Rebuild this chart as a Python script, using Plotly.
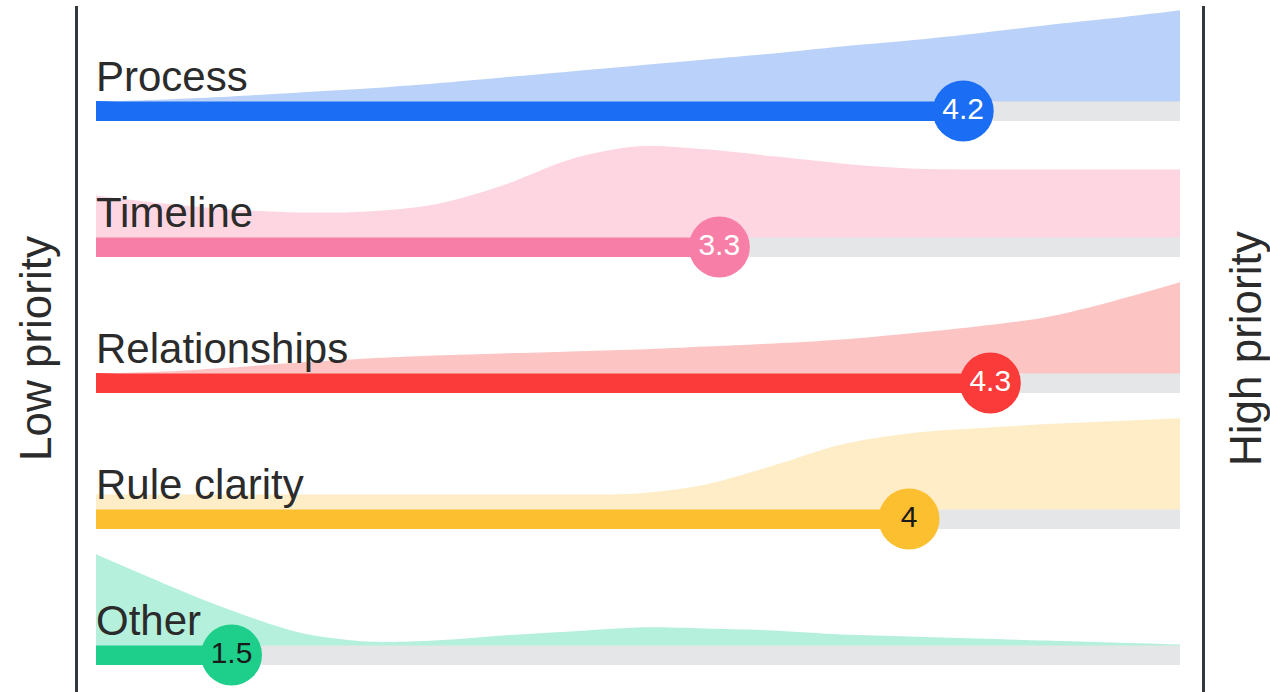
import plotly.graph_objects as go

# ---------------- data ----------------
categories = ["Process", "Timeline", "Relationships", "Rule clarity", "Other"]
scores = [4.2, 3.3, 4.3, 4.0, 1.5]
score_labels = ["4.2", "3.3", "4.3", "4", "1.5"]

# rating scale sample points (1 = low priority ... 5 = high priority)
grid = [1.0, 1.25, 1.5, 1.75, 2.0, 2.25, 2.5, 2.75, 3.0,
        3.25, 3.5, 3.75, 4.0, 4.25, 4.5, 4.75, 5.0]

# relative response density along the scale
density_process = [0, 2, 5, 9, 13, 18, 24, 30, 36, 42, 48, 55, 61, 68, 76, 83, 91]
density_timeline = [42, 34, 28, 25, 26, 33, 52, 78, 91, 88, 81, 74, 69, 68, 68, 68, 68]
density_relationships = [0, 2, 6, 11, 15, 18, 20, 22, 24, 27, 30, 34, 40, 47, 56, 72, 91]
density_rule_clarity = [15, 15, 15, 15, 15, 15, 15, 15, 16, 25, 44, 65, 76, 81, 85, 88, 91]
density_other = [91, 62, 35, 13, 4, 5, 10, 14, 18, 17, 15, 11, 9, 7, 5, 3, 1]
densities = [density_process, density_timeline, density_relationships,
             density_rule_clarity, density_other]

side_labels = ["Low priority", "High priority"]
scale_min, scale_max = 1, 5

# ---------------- styles ----------------
bar_colors = ["#1b6ef3", "#f77fa7", "#fb3b3a", "#fcbf30", "#1ecf8b"]
area_colors = ["#bad1f9", "#fdd6e2", "#fcc5c3", "#feedc6", "#b5f0dc"]
text_colors = ["#ffffff", "#ffffff", "#ffffff", "#1a1a1a", "#1a1a1a"]
track_color = "#e5e6e8"
label_color = "#2b2b2b"
FONT = "Liberation Sans, Arial, sans-serif"

W, H = 1270, 692
BAR_W = 0.14           # bar thickness in row units
AREA_MAX = 0.67        # height (row units) of max density
DENS_MAX = 91.0

rows = list(range(len(categories)))

fig = go.Figure()

# density areas
for i, dens in enumerate(densities):
    base = i - BAR_W / 2
    fig.add_trace(go.Scatter(
        x=[grid[0], grid[-1]], y=[base, base], mode="lines",
        line=dict(width=0, color=area_colors[i]), hoverinfo="skip", showlegend=False))
    fig.add_trace(go.Scatter(
        x=grid, y=[base - d / DENS_MAX * AREA_MAX for d in dens],
        mode="lines", line=dict(width=0, color=area_colors[i], shape="spline", smoothing=0.9),
        fill="tonexty", fillcolor=area_colors[i], hoverinfo="skip", showlegend=False))

# grey tracks
fig.add_trace(go.Bar(
    y=rows, x=[scale_max - scale_min] * len(rows), base=[scale_min] * len(rows),
    orientation="h", width=BAR_W, marker=dict(color=track_color, line=dict(width=0)),
    hoverinfo="skip", showlegend=False))
# coloured score bars
fig.add_trace(go.Bar(
    y=rows, x=[s - scale_min for s in scores], base=[scale_min] * len(rows),
    orientation="h", width=BAR_W, marker=dict(color=bar_colors, line=dict(width=0)),
    hoverinfo="skip", showlegend=False))

# score bubbles
fig.add_trace(go.Scatter(
    x=scores, y=rows, mode="markers+text",
    marker=dict(size=61, color=bar_colors, line=dict(width=0)),
    text=score_labels, textposition="middle center",
    textfont=dict(family=FONT, size=30, color=text_colors),
    hoverinfo="skip", showlegend=False, cliponaxis=False))

# category labels
for i, cat in enumerate(categories):
    fig.add_annotation(x=scale_min, y=i - BAR_W / 2, xref="x", yref="y",
                       text=cat, showarrow=False, xanchor="left", yanchor="bottom",
                       xshift=-2, yshift=-1, font=dict(family=FONT, size=42, color=label_color))

# side labels
fig.add_annotation(x=35 / W, y=1 - 349 / H, xref="paper", yref="paper",
                   xanchor="center", yanchor="middle",
                   text=side_labels[0], textangle=-90, showarrow=False,
                   font=dict(family=FONT, size=44, color=label_color))
fig.add_annotation(x=1245 / W, y=1 - 349 / H, xref="paper", yref="paper",
                   xanchor="center", yanchor="middle",
                   text=side_labels[1], textangle=-90, showarrow=False,
                   font=dict(family=FONT, size=44, color=label_color))

# boundary lines
for xp in (76.5 / W, 1203.5 / W):
    fig.add_shape(type="line", xref="paper", yref="paper", x0=xp, x1=xp,
                  y0=0, y1=1 - 6 / H, line=dict(color="#34383c", width=3))

px_per_unit = (1180 - 96) / (scale_max - scale_min)
x_lo = scale_min - 96 / px_per_unit
x_hi = x_lo + W / px_per_unit
row_px = 136.0
y_top = -111 / row_px
y_bot = (H - 111) / row_px

fig.update_layout(
    width=W, height=H, margin=dict(l=0, r=0, t=0, b=0),
    paper_bgcolor="white", plot_bgcolor="white",
    barmode="overlay", bargap=0,
    xaxis=dict(range=[x_lo, x_hi], visible=False, fixedrange=True),
    yaxis=dict(range=[y_bot, y_top], visible=False, fixedrange=True),
    font=dict(family=FONT),
)

fig.write_html("out.html", config={"displayModeBar": False},
               post_script="document.body.style.margin='0';document.body.style.overflow='hidden';")
